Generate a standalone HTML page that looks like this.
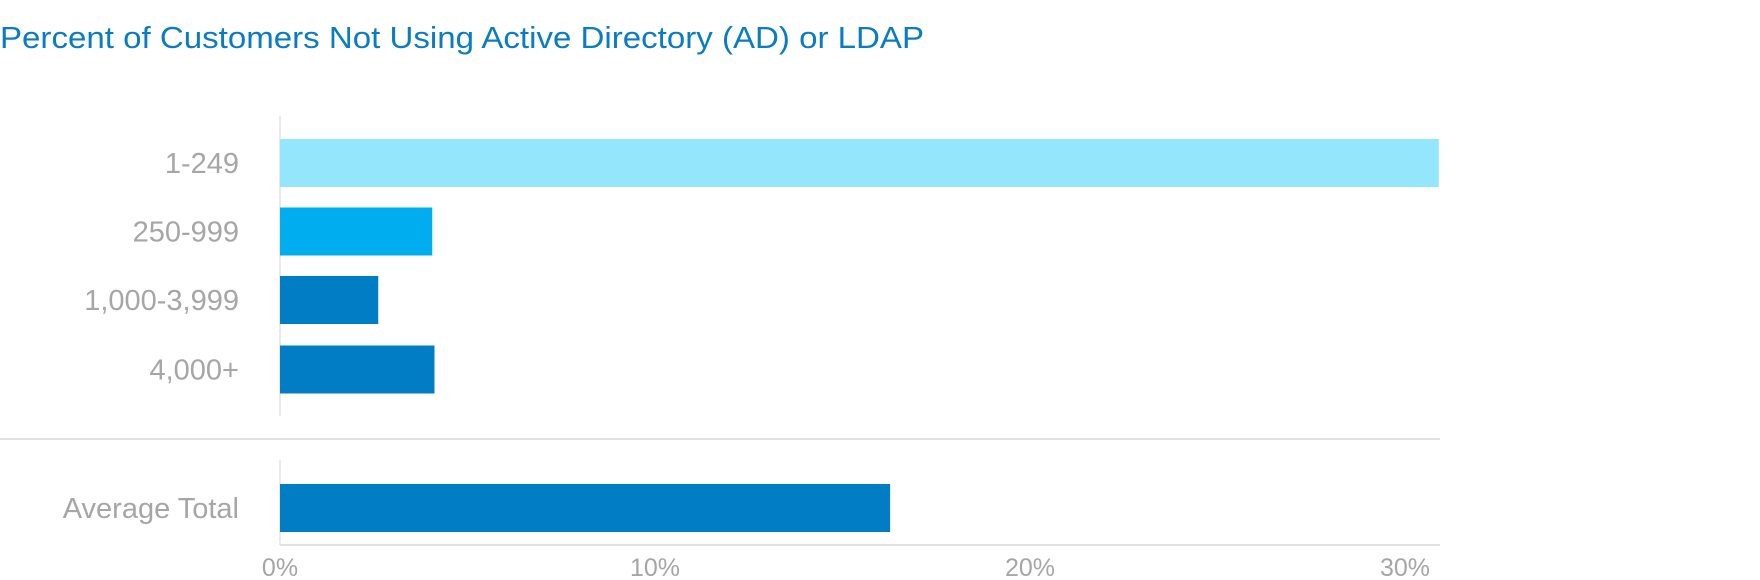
<!DOCTYPE html>
<html><head><meta charset="utf-8"><style>
html,body{margin:0;padding:0;background:#fff;width:1760px;height:580px;overflow:hidden}
svg{display:block}
text{font-family:"Liberation Sans",sans-serif}
</style></head><body>
<svg id="chart" width="1760" height="580">
<text x="0" y="48" font-size="31" fill="#0a7cc4" textLength="924" lengthAdjust="spacingAndGlyphs">Percent of Customers Not Using Active Directory (AD) or LDAP</text>
<line x1="280" y1="116" x2="280" y2="416" stroke="#e2e2e2" stroke-width="1.5"/>
<line x1="0" y1="439" x2="1440" y2="439" stroke="#e2e2e2" stroke-width="2"/>
<line x1="280" y1="460" x2="280" y2="545" stroke="#e2e2e2" stroke-width="1.5"/>
<line x1="280" y1="545" x2="1440" y2="545" stroke="#e2e2e2" stroke-width="2"/>
</svg>
<script>
const categories = ["1-249","250-999","1,000-3,999","4,000+","Average Total"];
const values = [30.9, 4.06, 2.62, 4.12, 16.27];
const colors = ["#94e6fc","#00aeef","#007dc5","#007dc5","#007dc5"];
const barTops = [139, 207.5, 276, 345.5, 484];
const tickValues = [0, 10, 20, 30];
const tickLabels = ["0%","10%","20%","30%"];
const NS = "http://www.w3.org/2000/svg";
const svg = document.getElementById("chart");
const x0 = 280, pxPer = 37.5, barH = 48;
function xScale(v){ return x0 + v * pxPer; }
categories.forEach((c, i) => {
  const r = document.createElementNS(NS, "rect");
  r.setAttribute("x", xScale(0));
  r.setAttribute("y", barTops[i]);
  r.setAttribute("width", xScale(values[i]) - xScale(0));
  r.setAttribute("height", barH);
  r.setAttribute("fill", colors[i]);
  
  
  svg.appendChild(r);
  const t = document.createElementNS(NS, "text");
  t.setAttribute("x", 239);
  t.setAttribute("y", barTops[i] + barH / 2 + 10);
  t.setAttribute("text-anchor", "end");
  t.setAttribute("font-size", "29");
  t.setAttribute("fill", "#a6a6a6");
  t.textContent = c;
  
  
  svg.appendChild(t);
});
tickValues.forEach((v, i) => {
  const t = document.createElementNS(NS, "text");
  t.setAttribute("x", xScale(v));
  t.setAttribute("y", 576);
  t.setAttribute("text-anchor", "middle");
  t.setAttribute("font-size", "25");
  t.setAttribute("fill", "#a6a6a6");
  t.textContent = tickLabels[i];
  
  
  svg.appendChild(t);
});
</script>
</body></html>
